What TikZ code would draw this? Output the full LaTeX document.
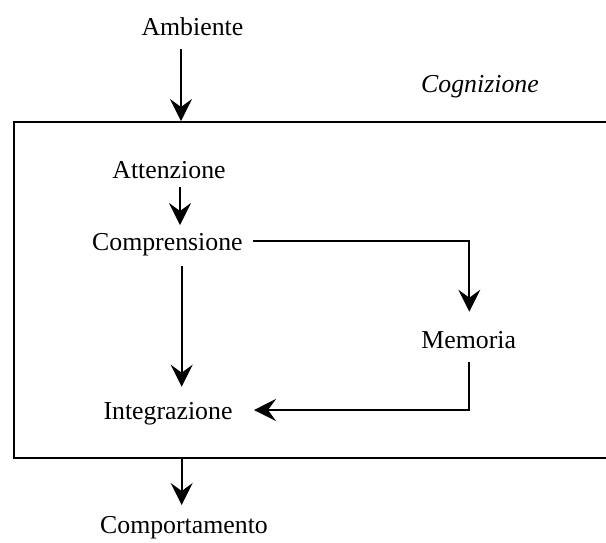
\documentclass[tikz,border=0pt]{standalone}
\usepackage{fontspec}
\setmainfont{Liberation Serif}
\usetikzlibrary{arrows.meta}
\begin{document}
\begin{tikzpicture}[x=1pt,y=-1pt,
  lbl/.style={anchor=base,inner sep=0pt,font=\fontsize{25.8}{30}\selectfont},
  conn/.style={line width=1.8pt},
  arr/.style={conn,-{Stealth[length=22pt,width=22pt,inset=8pt]}}]
\useasboundingbox (0,0) rectangle (606,542);
\node[draw,line width=2pt,minimum width=594.5pt,minimum height=336pt,inner sep=0pt] (box) at (310.75,290) {};
\node[lbl] (amb) at (192.4,35.7) {Ambiente};
\node[lbl,font=\fontsize{25.8}{30}\selectfont\itshape] (cog) at (480,92) {Cognizione};
\node[lbl] (att) at (169,178) {Attenzione};
\node[lbl] (comp) at (167.4,250) {Comprensione};
\node[lbl] (mem) at (468.7,348) {Memoria};
\node[lbl] (integ) at (168,419.3) {Integrazione};
\node[lbl] (compt) at (184,533) {Comportamento};
\coordinate (a1) at (181,49);
\coordinate (a2s) at (180,187);
\coordinate (a2e) at (180,225);
\coordinate (a3s) at (181.7,266);
\coordinate (a3e) at (181.7,386.7);
\coordinate (c1) at (253,241);
\coordinate (c2) at (469.3,241);
\coordinate (c3) at (469.3,311.7);
\coordinate (m1) at (469.3,361.7);
\coordinate (m2) at (469.3,410);
\coordinate (m3) at (254,410);
\coordinate (b1) at (181.7,458);
\coordinate (b2) at (181.7,505);
\draw[arr] (a1) -- (a1 |- box.north);
\draw[arr] (a2s) -- (a2e);
\draw[arr] (a3s) -- (a3e);
\draw[arr] (c1) -- (c2) -- (c3);
\draw[arr] (m1) -- (m2) -- (m3);
\draw[arr] (b1 |- box.south) -- (b2);
\end{tikzpicture}
\end{document}
